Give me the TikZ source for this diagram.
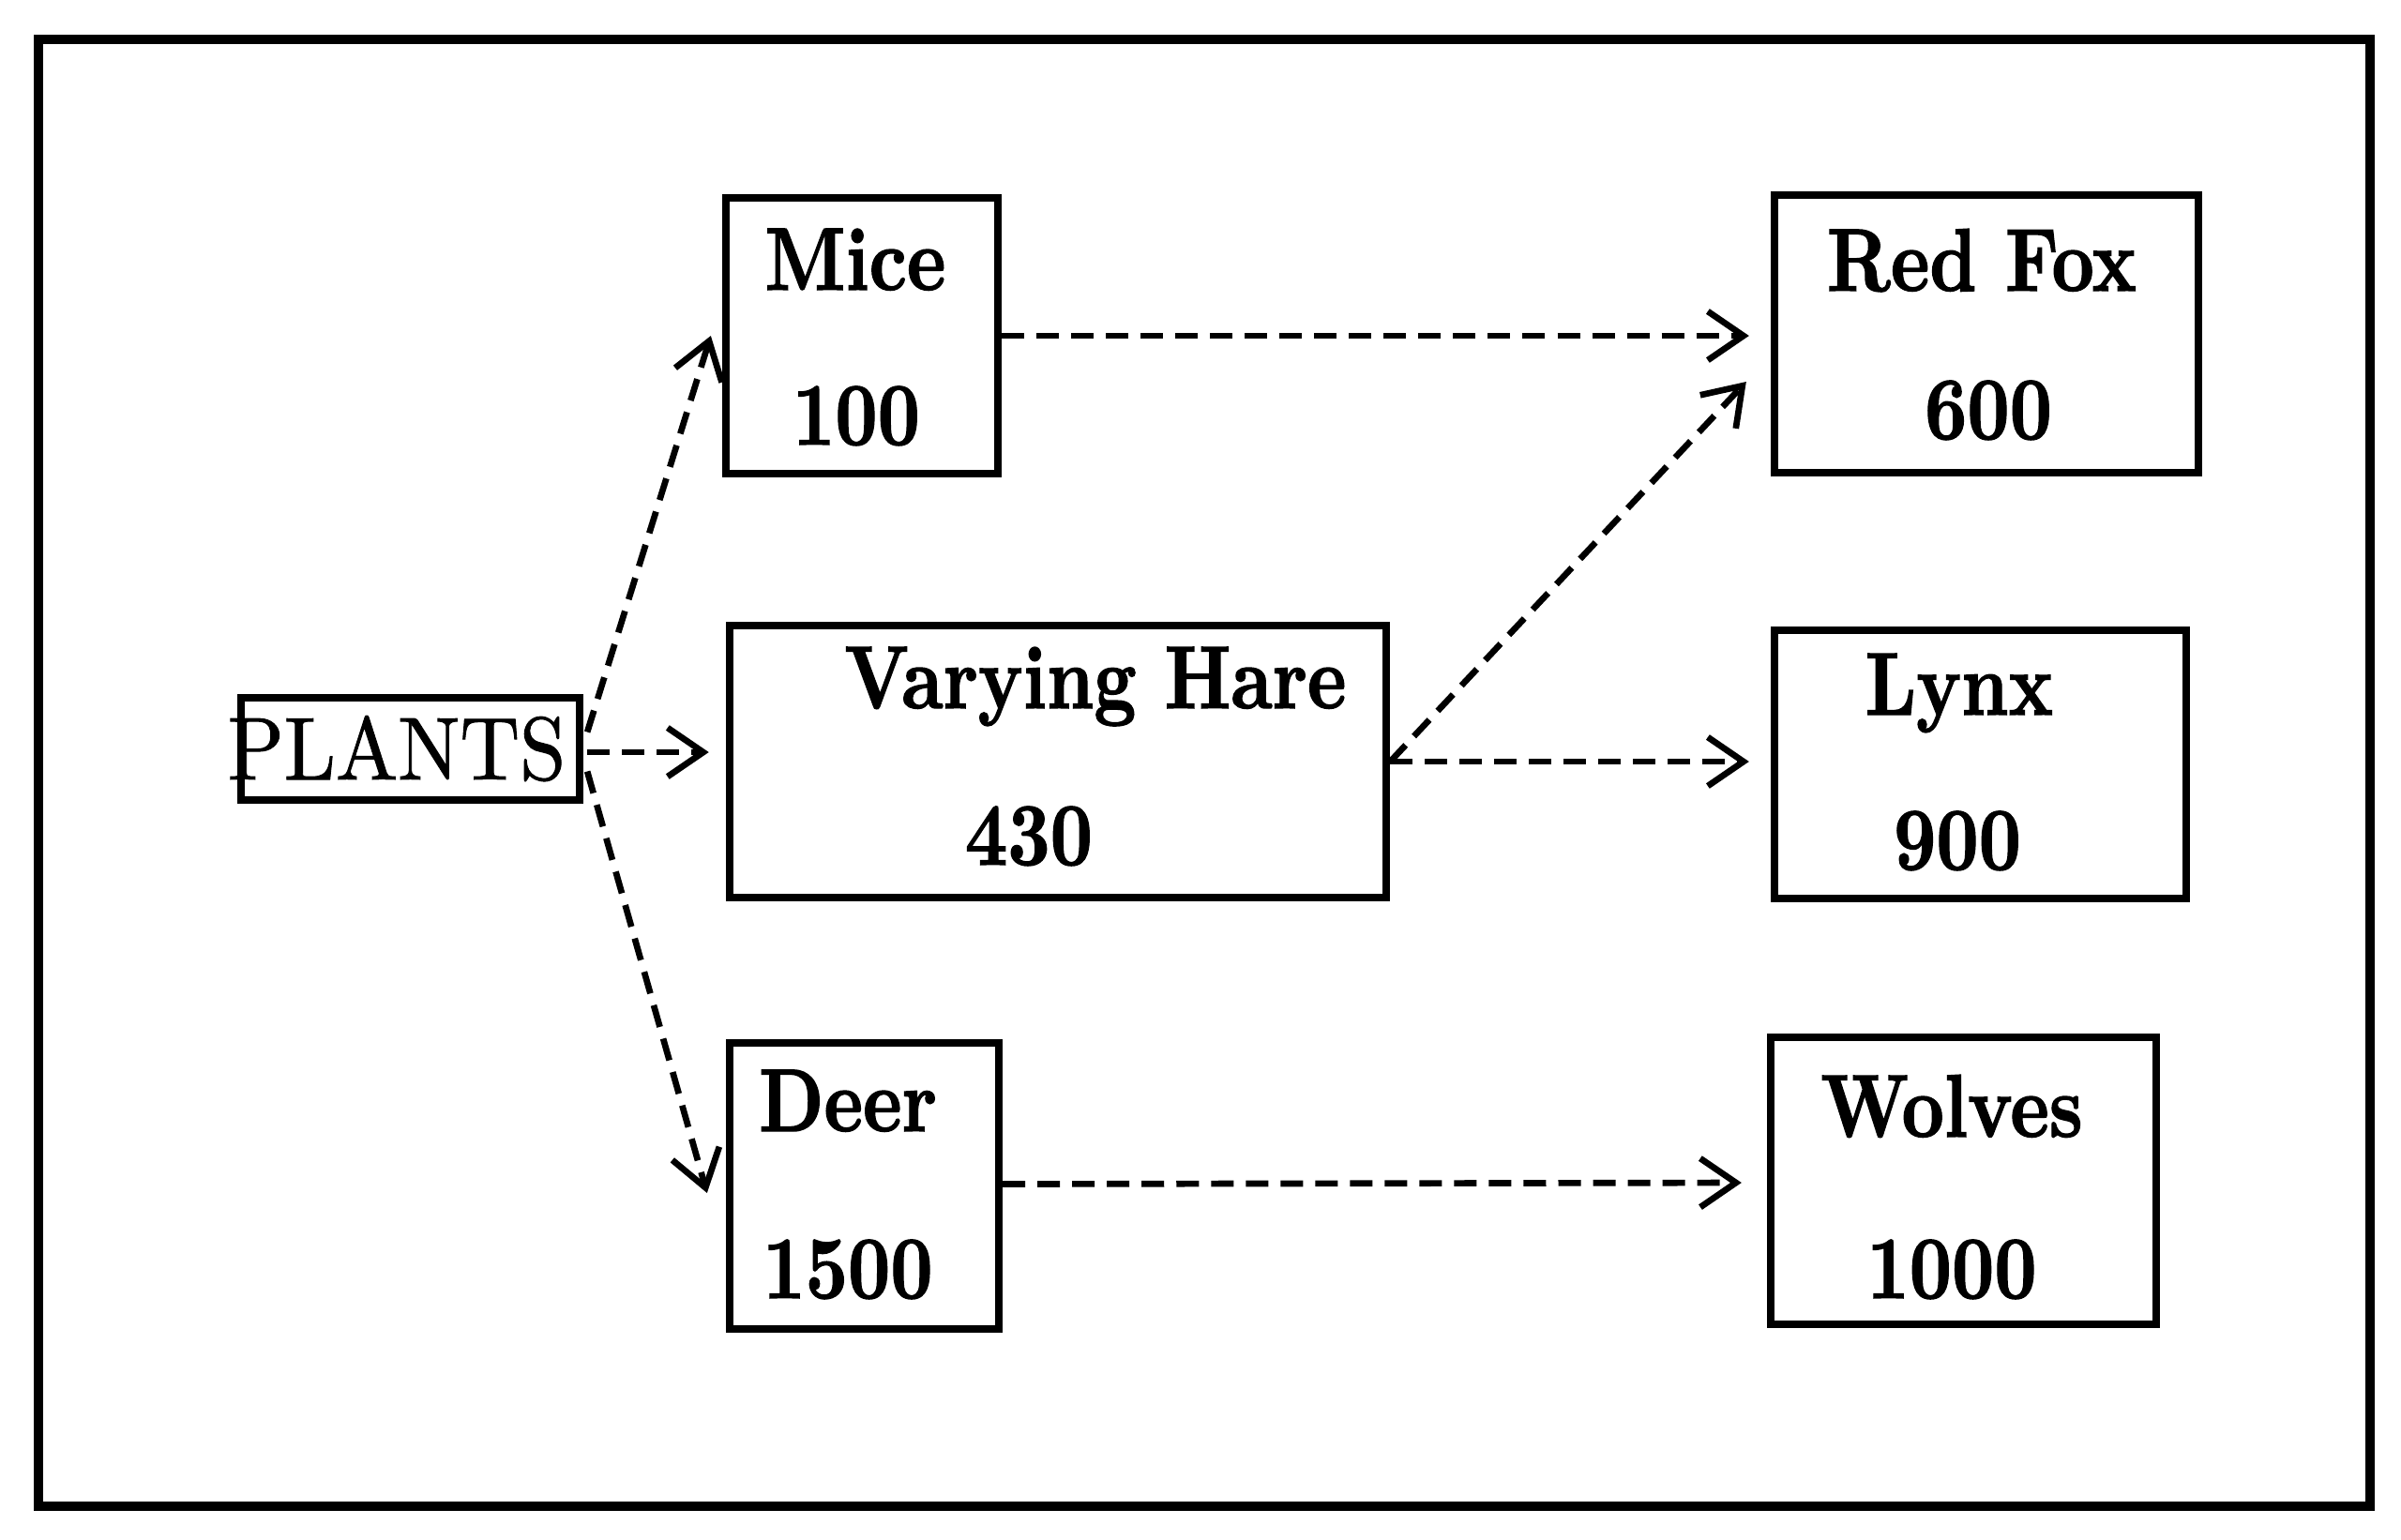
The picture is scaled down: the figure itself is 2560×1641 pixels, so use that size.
\documentclass[tikz,border=0pt]{standalone}
\usepackage{graphicx}
\usepackage{fontspec}
\setmainfont{lmroman10-regular.otf}[BoldFont=lmroman10-bold.otf, BoldFeatures={FakeBold=1.5}]
\newfontfamily\plantsfont{lmroman10-regular.otf}[FakeBold=1]
\usetikzlibrary{arrows.meta,calc}
\newcommand\sqz[1]{\scalebox{0.83}[1]{#1}}
\newcommand\sqzr[1]{\scalebox{0.93}[1]{#1}}
\tikzset{
  boxnode/.style={draw, line width=2.3pt, inner sep=0pt},
  lab/.style={anchor=base, inner sep=0pt, font=\fontsize{27}{32}\selectfont\bfseries},
  labr/.style={anchor=base, inner sep=0pt, font=\fontsize{27}{32}\selectfont\plantsfont},
  link/.style={line width=1.9pt, dash pattern=on 0.24cm off 0.13cm,
    -{Straight Barb[length=3.8mm,width=5.2mm]}},
  framebox/.style={line width=2.8pt}
}
\begin{document}
\begin{tikzpicture}[x=0.01cm,y=-0.01cm]
\useasboundingbox (0,0) rectangle (2560,1641);
\draw[framebox] (41,42) rectangle (2527,1606);

% boxes
\node[boxnode, minimum width=3.61cm, minimum height=1.09cm] (plants) at (437.5,798.5) {};
\node[boxnode, minimum width=2.90cm, minimum height=2.94cm] (mice) at (919,358) {};
\node[boxnode, minimum width=7.00cm, minimum height=2.90cm] (hare) at (1128,812) {};
\node[boxnode, minimum width=2.87cm, minimum height=3.05cm] (deer) at (921.5,1264.5) {};
\node[boxnode, minimum width=4.52cm, minimum height=2.96cm] (redfox) at (2118,356) {};
\node[boxnode, minimum width=4.39cm, minimum height=2.86cm] (lynx) at (2111.5,815) {};
\node[boxnode, minimum width=4.11cm, minimum height=3.06cm] (wolves) at (2093.5,1259) {};

% labels
\node[labr] (tplants) at (423,831) {\sqzr{PLANTS}};
\node[lab] (tmice) at (912,309) {\sqz{Mice}};
\node[lab] (nmice) at (913,474) {\sqz{100}};
\node[lab] (thare) at (1168,755) {\sqz{Varying Hare}};
\node[lab] (nhare) at (1097,922) {\sqz{430}};
\node[lab] (tdeer) at (904,1206) {\sqz{Deer}};
\node[lab] (ndeer) at (904,1384) {\sqz{1500}};
\node[lab] (tredfox) at (2113,310) {\sqz{Red Fox}};
\node[lab] (nredfox) at (2120,468) {\sqz{600}};
\node[lab] (tlynx) at (2089,762) {\sqz{Lynx}};
\node[lab] (nlynx) at (2087,927) {\sqz{900}};
\node[lab] (twolves) at (2081,1212) {\sqz{Wolves}};
\node[lab] (nwolves) at (2081,1384) {\sqz{1000}};

% connectors
\draw[link] ($(plants.east)+(4,-18)$) -- ($(mice.west)+(-12,0)$);
\draw[link] ($(plants.east)+(4,3.5)$) -- ($(hare.west)+(-18,-10)$);
\draw[link] ($(plants.east)+(4,24)$) -- ($(deer.west)+(-20,7.5)$);
\draw[link] (mice.east) -- ($(redfox.west)+(-23,2)$);
\draw[link] (hare.east) -- ($(redfox.west)+(-26,51)$);
\draw[link] (hare.east) -- ($(lynx.west)+(-23,-3)$);
\draw[link] ($(deer.east)+(0,-2)$) -- ($(wolves.west)+(-27,2)$);
\end{tikzpicture}
\end{document}
